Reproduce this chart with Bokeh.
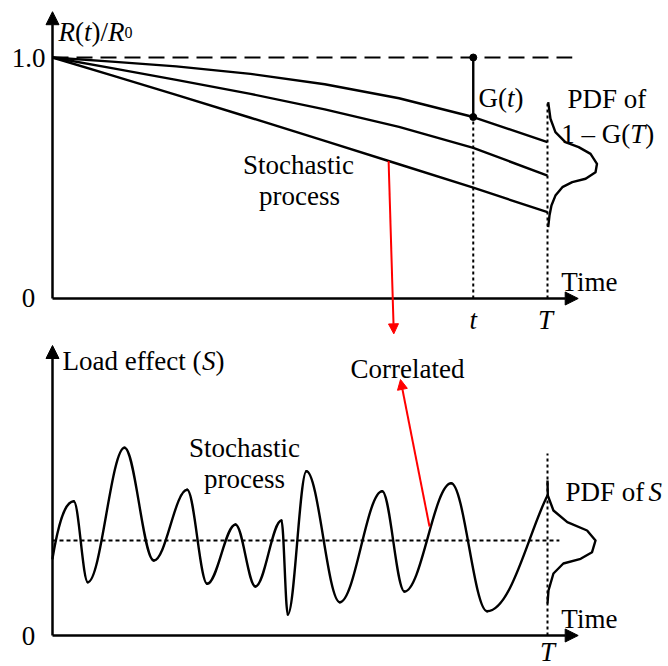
import numpy as np
from bokeh.plotting import figure
from bokeh.models import Range1d, Arrow, NormalHead
from bokeh.core.properties import value
from bokeh.embed import file_html
from bokeh.resources import INLINE

# ---------------- data: top panel (resistance degradation) ----------------
t_knots = [0.0, 0.12, 0.25, 0.4, 0.55, 0.7, 0.85, 1.0]
r_upper = [1.0, 0.983, 0.963, 0.932, 0.889, 0.831, 0.753, 0.649]
r_middle = [1.0, 0.956, 0.907, 0.849, 0.785, 0.712, 0.625, 0.510]
r_lower = [1.0, 0.926, 0.845, 0.750, 0.654, 0.557, 0.460, 0.358]
t_now = 0.85          # "t"
T_end = 1.0           # "T"
r_ref = 1.0           # R(t)/R0 = 1.0 dashed reference
pdf_r_offset = [0.0014, 0.006, 0.016, 0.036, 0.063, 0.087, 0.100, 0.097,
                0.077, 0.050, 0.030, 0.016, 0.008, 0.004, 0.0014]
pdf_r_level = [0.815, 0.746, 0.690, 0.649, 0.628, 0.600, 0.559, 0.524,
               0.497, 0.483, 0.462, 0.427, 0.386, 0.344, 0.296]

# ---------------- data: bottom panel (load effect) ----------------
load_t = [0.0, 0.043, 0.0713, 0.1455, 0.2047, 0.272, 0.3125, 0.3697, 0.41,
          0.4626, 0.4754, 0.513, 0.5804, 0.666, 0.711, 0.8054, 0.878, 1.0]
load_s = [0.77, 1.343, 0.533, 1.877, 0.75, 1.457, 0.517, 1.11, 0.49,
          1.15, 0.21, 1.643, 0.333, 1.443, 0.44, 1.523, 0.243, 1.40]
load_mean = 0.95
pdf_s_offset = [0.0, 0.0006, 0.012, 0.040, 0.080, 0.097, 0.090, 0.067,
                0.032, 0.012, 0.002, 0.0]
pdf_s_level = [1.55, 1.40, 1.25, 1.133, 1.05, 0.95, 0.833, 0.767,
               0.72, 0.62, 0.45, 0.32]

FONT = value("Liberation Serif")
FS = "27px"

p = figure(width=668, height=666,
           x_range=Range1d(-52 / 495, 616 / 495),
           y_range=Range1d(-368 / 241, 298 / 241),
           output_backend="svg", toolbar_location=None,
           x_axis_location=None, y_axis_location=None,
           min_border=0, outline_line_color=None,
           background_fill_color="white", border_fill_color="white")
p.extra_y_ranges = {"S": Range1d(-0.31, 6.35)}
p.xgrid.visible = False
p.ygrid.visible = False


def label(x, y, txt, size=FS, style="normal", align="left",
          baseline="alphabetic", rng="default"):
    p.text(x=[x], y=[y], text=[txt], text_font=FONT, text_font_size=size,
           text_font_style=style, text_align=align, text_baseline=baseline,
           text_color="black", y_range_name=rng)


def axis_arrow(x0, y0, x1, y1, rng="default"):
    p.add_layout(Arrow(end=NormalHead(size=13, fill_color="black",
                                      line_color="black", line_width=1),
                       x_start=x0, y_start=y0, x_end=x1, y_end=y1,
                       line_width=2.5, line_color="black", y_range_name=rng))


# ---------------- top panel ----------------
axis_arrow(0, 0, 0, 1.19)
axis_arrow(0, 0, 1.062, 0)

p.line([0, 1.05], [r_ref, r_ref], line_color="black", line_width=2.2,
       line_dash="16 8")
for r in (r_upper, r_middle, r_lower):
    p.line(t_knots, r, line_color="black", line_width=2.4, line_join="round")

g_low = r_upper[t_knots.index(t_now)]
p.line([t_now, t_now], [0, g_low], line_color="black", line_width=2,
       line_dash="3 3")
p.line([T_end, T_end], [0, pdf_r_level[0]], line_color="black",
       line_width=2, line_dash="3 3")
p.line([t_now, t_now], [g_low, r_ref], line_color="black", line_width=2.4)
p.scatter([t_now, t_now], [r_ref, g_low], size=7, color="black")

p.line([T_end + o for o in pdf_r_offset], pdf_r_level, line_color="black",
       line_width=2.4, line_join="round")

label(-0.0141, 0.996, "1.0", align="right", baseline="middle")
label(-0.0485, 0.004, "0", align="center", baseline="middle")
label(1.028, 0.0705, "Time", baseline="middle")
label(t_now, -0.091, "t", style="italic", align="center", baseline="middle")
label(T_end - 0.004, -0.091, "T", style="italic", align="center",
      baseline="middle")
label(0.8606, 0.830, "G(")
label(0.9182, 0.830, "t", style="italic")
label(0.9333, 0.830, ")")
label(1.0404, 0.829, "PDF of")
label(1.0277, 0.683, "1 \u2013 G(")
label(1.1671, 0.683, "T", style="italic")
label(1.1974, 0.683, ")")
label(0.497, 0.552, "Stochastic", align="center", baseline="middle")
label(0.499, 0.427, "process", align="center", baseline="middle")
label(0.0121, 1.105, "R", style="italic")
label(0.0455, 1.105, "(")
label(0.0636, 1.105, "t", style="italic")
label(0.0788, 1.105, ")/")
label(0.1121, 1.105, "R", style="italic")
label(0.1455, 1.105, "0", size="16px")

# ---------------- bottom panel ----------------
axis_arrow(0, 0, 0, 2.90, rng="S")
axis_arrow(0, 0, 1.062, 0, rng="S")

p.line([0, 1.024], [load_mean, load_mean], line_color="black",
       line_width=2, line_dash="4 3", y_range_name="S")
p.line([T_end, T_end], [0, 1.82], line_color="black", line_width=2,
       line_dash="3 3", y_range_name="S")

k = 0.36
n = len(load_t)
x0s, y0s, x1s, y1s, c0x, c0y, c1x, c1y = [], [], [], [], [], [], [], []
for i in range(n - 1):
    xa, ya, xb, yb = load_t[i], load_s[i], load_t[i + 1], load_s[i + 1]
    dx, dy = xb - xa, yb - ya
    x0s.append(xa); y0s.append(ya); x1s.append(xb); y1s.append(yb)
    if i == 0:
        c0x.append(xa + dx * 0.25); c0y.append(ya + dy * 0.55)
        c1x.append(xb - dx * 0.45); c1y.append(yb)
    elif i == n - 2:
        c0x.append(xa + dx * 0.40); c0y.append(ya)
        c1x.append(xb - dx * 0.30); c1y.append(yb - dy * 0.30)
    else:
        c0x.append(xa + dx * k); c0y.append(ya)
        c1x.append(xb - dx * k); c1y.append(yb)
p.bezier(x0=x0s, y0=y0s, x1=x1s, y1=y1s, cx0=c0x, cy0=c0y, cx1=c1x,
         cy1=c1y, line_color="black", line_width=2.4, line_cap="round",
         y_range_name="S")

p.line([T_end + o for o in pdf_s_offset], pdf_s_level, line_color="black",
       line_width=2.4, line_join="round", y_range_name="S")

label(-0.0485, 0.0, "0", align="center", baseline="middle", rng="S")
label(1.028, 0.17, "Time", baseline="middle", rng="S")
label(T_end, -0.16, "T", style="italic", align="center", baseline="middle",
      rng="S")
label(0.0202, 2.75, "Load effect (", rng="S")
label(0.3018, 2.75, "S", style="italic", rng="S")
label(0.3291, 2.75, ")", rng="S")
label(0.602, 2.67, "Correlated", rng="S")
label(0.388, 1.88, "Stochastic", align="center", baseline="middle", rng="S")
label(0.388, 1.57, "process", align="center", baseline="middle", rng="S")
label(1.0364, 1.433, "PDF of", rng="S")
label(1.2040, 1.433, "S", style="italic", rng="S")

# ---------------- red "correlated" arrows ----------------
a_t = 0.679
a_r = float(np.interp(a_t, t_knots, r_lower))
p.add_layout(Arrow(end=NormalHead(size=10, fill_color="red", line_color="red",
                                  line_width=1),
                   x_start=a_t, y_start=a_r, x_end=0.6895, y_end=-0.1466,
                   line_color="red", line_width=2))
p.add_layout(Arrow(end=NormalHead(size=10, fill_color="red", line_color="red",
                                  line_width=1),
                   x_start=0.7616, y_start=1.09, x_end=0.703, y_end=2.56,
                   line_color="red", line_width=2, y_range_name="S"))

open("out.html", "w").write(file_html(p, INLINE))
